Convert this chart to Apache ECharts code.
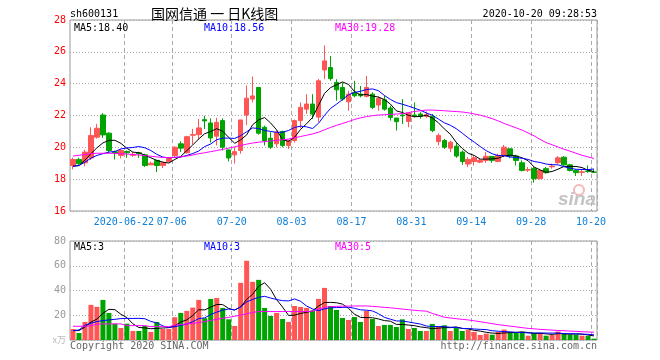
<!DOCTYPE html>
<html><head><meta charset="utf-8">
<script src="https://cdn.jsdelivr.net/npm/echarts@6/dist/echarts.min.js"></script>
<style>html,body{margin:0;padding:0;background:#fff}#c{width:660px;height:360px}</style>
</head><body><div id="c"></div>
<script>
// ---- data ----
const categories = [
 '2020-06-09','2020-06-10','2020-06-11','2020-06-12','2020-06-15','2020-06-16','2020-06-17','2020-06-18','2020-06-19','2020-06-22',
 '2020-06-23','2020-06-24','2020-06-29','2020-06-30','2020-07-01','2020-07-02','2020-07-03','2020-07-06','2020-07-07','2020-07-08',
 '2020-07-09','2020-07-10','2020-07-13','2020-07-14','2020-07-15','2020-07-16','2020-07-17','2020-07-20','2020-07-21','2020-07-22',
 '2020-07-23','2020-07-24','2020-07-27','2020-07-28','2020-07-29','2020-07-30','2020-07-31','2020-08-03','2020-08-04','2020-08-05',
 '2020-08-06','2020-08-07','2020-08-10','2020-08-11','2020-08-12','2020-08-13','2020-08-14','2020-08-17','2020-08-18','2020-08-19',
 '2020-08-20','2020-08-21','2020-08-24','2020-08-25','2020-08-26','2020-08-27','2020-08-28','2020-08-31','2020-09-01','2020-09-02',
 '2020-09-03','2020-09-04','2020-09-07','2020-09-08','2020-09-09','2020-09-10','2020-09-11','2020-09-14','2020-09-15','2020-09-16',
 '2020-09-17','2020-09-18','2020-09-21','2020-09-22','2020-09-23','2020-09-24','2020-09-25','2020-09-28','2020-09-29','2020-09-30',
 '2020-10-09','2020-10-12','2020-10-13','2020-10-14','2020-10-15','2020-10-16','2020-10-19','2020-10-20'
];
const openPrice = [
 18.86,19.24,19.03,19.33,20.64,22.03,20.89,19.72,19.49,19.74,
 19.50,19.66,19.53,18.90,19.18,18.86,19.10,19.49,20.22,19.66,
 20.76,20.80,21.74,21.53,20.70,21.68,19.84,19.53,19.80,22.03,
 23.03,23.76,21.26,20.57,20.22,20.99,20.11,20.43,21.68,22.40,
 22.72,21.90,24.86,25.01,24.07,23.76,22.86,23.45,23.34,23.20,
 23.34,22.66,22.99,22.47,21.84,22.03,21.63,22.03,22.09,21.95,
 21.95,20.36,20.43,19.95,20.07,19.70,18.95,19.11,19.07,19.18,
 19.43,19.11,19.49,19.91,19.45,19.03,18.57,18.66,18.03,18.66,
 18.78,19.03,19.38,18.90,18.55,18.43,18.52,18.45
];
const closePrice = [
 19.24,18.97,19.70,20.74,21.20,20.78,19.80,19.66,19.80,19.66,
 19.56,19.60,18.86,19.00,18.86,19.03,19.30,20.01,19.95,20.67,
 20.80,21.22,21.66,20.59,21.57,20.01,19.33,19.73,21.72,23.09,
 23.23,20.89,20.43,20.01,20.95,20.11,20.40,21.68,22.51,22.72,
 22.09,24.18,25.43,24.32,23.61,23.03,23.34,23.24,23.24,23.76,
 22.51,23.07,22.40,21.88,21.61,21.98,22.16,21.98,21.95,22.05,
 21.05,20.74,20.01,20.32,19.45,19.11,19.24,19.34,19.18,19.43,
 19.18,19.49,20.01,19.45,19.18,18.55,18.60,18.03,18.55,18.41,
 18.82,19.34,18.90,18.55,18.41,18.46,18.48,18.43
];
const lowPrice = [
 18.62,18.90,18.80,19.20,20.55,20.60,19.60,19.24,19.30,19.34,
 19.40,19.34,18.76,18.90,18.45,18.70,19.05,19.40,19.70,19.60,
 20.20,20.50,21.15,20.30,20.12,19.80,19.12,18.98,19.60,21.40,
 22.82,20.80,20.12,19.90,20.00,20.00,19.90,20.30,21.20,22.10,
 21.78,21.60,24.28,24.18,22.93,22.93,22.30,23.14,23.14,23.14,
 22.40,22.30,22.30,21.68,21.05,21.47,21.26,21.88,21.80,21.85,
 20.95,20.12,19.90,19.70,19.34,18.90,18.76,18.86,19.00,19.03,
 19.03,19.07,19.38,19.32,18.86,18.49,18.45,17.78,17.99,18.34,
 18.66,18.97,18.82,18.49,18.20,18.20,18.40,18.41
];
const highPrice = [
 19.35,19.35,19.85,21.26,21.47,22.15,20.95,19.80,19.90,19.80,
 19.70,19.72,19.60,19.10,19.20,19.10,19.35,20.05,20.38,20.72,
 21.16,21.78,21.98,21.82,21.85,21.82,19.85,20.00,21.72,23.88,
 24.45,23.76,21.36,20.95,21.05,21.05,20.50,21.75,22.82,23.34,
 23.34,24.30,26.40,25.74,24.28,24.07,23.55,24.18,23.86,24.49,
 23.45,23.20,23.24,22.61,21.84,23.03,22.16,22.82,22.20,22.25,
 22.10,20.88,20.53,20.43,20.32,19.80,19.38,19.49,19.30,19.70,
 19.43,19.60,20.15,19.91,19.53,19.18,18.76,18.76,18.66,18.76,
 18.97,19.45,19.45,18.97,18.61,18.59,18.86,18.61
];
const ma5 = [
 18.82,18.85,19.20,19.60,19.97,20.28,20.44,20.44,20.25,19.94,
 19.70,19.66,19.50,19.34,19.18,19.07,19.01,19.24,19.43,19.79,
 20.15,20.53,20.86,20.99,21.17,21.01,20.63,20.25,20.47,20.78,
 21.42,21.73,21.87,21.53,21.10,20.48,20.38,20.63,21.13,21.48,
 21.88,22.64,23.39,23.75,23.93,24.11,23.95,23.51,23.29,23.32,
 23.22,23.16,23.00,22.72,22.29,22.19,22.01,21.92,21.94,22.02,
 21.84,21.55,21.16,20.83,20.31,19.93,19.63,19.49,19.26,19.26,
 19.27,19.32,19.46,19.51,19.46,19.34,19.16,18.76,18.58,18.43,
 18.48,18.63,18.80,18.80,18.80,18.73,18.56,18.47
];
const ma10 = [
 18.80,18.86,19.07,19.32,19.49,19.60,19.70,19.74,19.90,19.96,
 19.99,20.05,19.97,19.80,19.56,19.39,19.34,19.37,19.39,19.49,
 19.61,19.77,20.05,20.21,20.48,20.58,20.58,20.56,20.73,20.98,
 21.22,21.18,21.06,21.00,20.94,20.95,21.06,21.25,21.33,21.29,
 21.18,21.51,22.01,22.44,22.71,23.00,23.30,23.45,23.52,23.63,
 23.67,23.56,23.26,23.01,22.81,22.71,22.59,22.46,22.33,22.16,
 22.02,21.78,21.54,21.39,21.17,20.89,20.59,20.33,20.05,19.79,
 19.60,19.48,19.48,19.39,19.36,19.31,19.24,19.11,19.05,18.95,
 18.91,18.90,18.78,18.69,18.62,18.61,18.60,18.64
];
const ma30 = [
 19.45,19.50,19.55,19.60,19.63,19.63,19.63,19.62,19.60,19.58,
 19.55,19.52,19.48,19.44,19.40,19.36,19.36,19.37,19.40,19.45,
 19.52,19.60,19.66,19.73,19.80,19.87,19.95,20.03,20.12,20.20,
 20.27,20.32,20.36,20.40,20.44,20.48,20.52,20.60,20.68,20.76,
 20.84,20.95,21.10,21.25,21.38,21.50,21.62,21.75,21.85,21.93,
 21.99,22.03,22.05,22.07,22.09,22.12,22.18,22.25,22.30,22.34,
 22.34,22.32,22.30,22.27,22.25,22.22,22.17,22.10,22.02,21.92,
 21.80,21.66,21.50,21.36,21.22,21.08,20.90,20.72,20.50,20.30,
 20.16,20.02,19.88,19.76,19.63,19.50,19.40,19.30
];
const volume = [
 8.9,5.7,14.6,28.4,26.8,32.4,21.9,13.2,9.7,13.2,
 7.3,7.3,11.3,6.5,14.6,8.9,8.9,18.4,21.9,23.5,
 26.2,32.4,17.6,33.2,34.0,25.9,16.7,11.3,46.2,64.0,
 47.0,48.6,25.9,19.4,21.9,17.0,14.6,27.5,26.7,25.9,
 23.5,33.2,42.1,27.5,24.3,17.8,16.2,18.6,14.6,23.5,
 17.0,11.3,12.2,12.2,10.5,16.7,8.9,9.7,7.3,7.3,
 13.0,10.5,11.9,7.3,10.0,7.3,8.1,6.5,4.1,5.1,
 4.3,6.5,8.4,5.7,5.7,6.5,3.5,5.7,5.7,3.5,
 4.1,6.8,4.9,4.3,4.3,3.5,3.2,1.1
];
const volMa5 = [
 7.6,7.6,10.5,14.5,16.9,21.6,24.8,24.5,20.8,18.1,
 13.1,10.1,9.8,9.1,9.4,9.7,10.0,11.5,14.5,16.3,
 19.8,24.5,24.3,26.6,28.7,28.6,25.5,24.2,26.8,32.8,
 37.0,43.4,46.3,41.0,32.6,26.6,19.8,20.1,21.5,22.3,
 23.6,27.4,30.3,30.4,30.1,29.0,25.6,20.9,18.3,18.1,
 18.0,17.0,15.7,15.2,12.6,12.6,12.1,11.6,10.6,10.0,
 9.2,9.6,10.0,10.0,10.5,9.4,8.9,7.8,7.2,6.2,
 5.6,5.3,5.7,6.0,6.1,6.6,6.0,5.4,5.4,5.0,
 4.5,5.2,5.0,4.7,4.9,4.8,4.0,3.3
];
const volMa10 = [
 7.6,8.1,12.0,13.5,14.9,15.7,16.2,16.7,17.3,17.5,
 17.4,17.5,17.2,15.0,13.8,11.4,10.1,10.7,11.8,12.9,
 14.8,17.3,17.9,20.6,22.5,24.2,25.0,24.3,26.7,30.8,
 32.8,34.5,35.3,33.9,32.7,31.8,31.6,33.2,31.3,27.5,
 25.1,23.6,25.2,26.0,26.2,26.3,26.5,25.6,24.4,24.1,
 23.5,21.3,18.3,16.8,15.4,15.3,14.6,13.7,12.9,11.3,
 10.9,10.9,10.8,10.3,10.3,9.3,9.3,8.9,8.6,8.4,
 7.5,7.1,6.8,6.6,6.2,6.1,5.7,5.6,5.7,5.6,
 5.6,5.6,5.2,5.1,5.0,4.7,4.6,4.2
];
const volMa30 = [
 11.1,11.1,11.1,11.5,12.8,13.0,13.0,13.0,13.0,11.6,
 11.6,11.6,11.6,10.8,10.8,10.8,10.8,12.0,12.5,13.0,
 13.5,14.0,14.9,15.8,16.7,17.6,18.3,19.2,20.2,21.2,
 22.2,23.0,23.0,23.0,23.0,23.0,23.0,23.0,23.0,23.0,
 23.2,25.0,26.5,27.0,27.2,27.3,27.4,27.5,27.5,27.5,
 27.2,26.8,26.4,26.0,25.5,25.0,24.5,24.0,23.6,23.3,
 21.5,20.0,18.4,17.8,17.2,16.7,16.2,15.5,14.8,14.0,
 13.2,12.4,11.8,11.2,10.6,10.0,9.4,9.0,8.6,8.3,
 8.0,7.7,7.5,7.2,7.0,6.7,6.5,6.3
];
const tickDates = ['2020-06-22','2020-07-06','2020-07-20','2020-08-03','2020-08-17','2020-08-31','2020-09-14','2020-09-28','2020-10-20'];
const tickLabels = ['2020-06-22','07-06','07-20','08-03','08-17','08-31','09-14','09-28','10-20'];
const priceMin = 16, priceMax = 28, priceStep = 2;
const volMin = 0, volMax = 80, volStep = 20;
const priceLegend = ['MA5:18.40','MA10:18.56','MA30:19.28'];
const volLegend = ['MA5:3','MA10:3','MA30:5'];

// ---- chart ----
const MONO = '"DejaVu Sans Mono","Liberation Mono",monospace';
const UP = '#ff5555', DOWN = '#00a400';
const GRIDC = '#aaaaaa';
const isTick = (i, v) => tickDates.indexOf(v) >= 0;
const chart = echarts.init(document.getElementById('c'), null, {renderer: 'canvas', width: 660, height: 360});
const vSplit = {show: true, interval: isTick, lineStyle: {color: GRIDC, type: [4, 3], width: 1}};
const hSplit = {show: true, lineStyle: {color: GRIDC, type: [1, 2], width: 1}};
function lineSeries(data, color, xi) {
  return {type: 'line', xAxisIndex: xi, yAxisIndex: xi, data: data, symbol: 'none', showSymbol: false,
    lineStyle: {width: 1, color: color}, itemStyle: {color: color}, z: 3, silent: true};
}
function txt(text, x, y, color, font, align) {
  return {type: 'text', x: x, y: y, z: 100, style: {text: text, fill: color, font: font,
    align: align || 'left', verticalAlign: 'middle', textAlign: align || 'left', textVerticalAlign: 'middle'}};
}
const f10 = '10px ' + MONO;
const option = {
  animation: false,
  backgroundColor: '#ffffff',
  grid: [
    {left: 70, right: 63, top: 20, height: 191, show: true, borderColor: '#999', borderWidth: 1, backgroundColor: 'transparent', containLabel: false, outerBoundsMode: 'none'},
    {left: 70, right: 63, top: 241, height: 99, show: true, borderColor: '#999', borderWidth: 1, backgroundColor: 'transparent', containLabel: false, outerBoundsMode: 'none'}
  ],
  xAxis: [
    {type: 'category', gridIndex: 0, data: categories, boundaryGap: true,
     axisLine: {show: false}, axisTick: {show: false},
     axisLabel: {interval: isTick, formatter: v => tickLabels[tickDates.indexOf(v)] || '', color: '#1080d8',
       fontFamily: MONO, fontSize: 10, margin: 6, padding: [0, 6, 0, 0], hideOverlap: false},
     splitLine: vSplit},
    {type: 'category', gridIndex: 1, data: categories, boundaryGap: true,
     axisLine: {show: false}, axisTick: {show: false}, axisLabel: {show: false}, splitLine: vSplit}
  ],
  yAxis: [
    {type: 'value', gridIndex: 0, min: priceMin, max: priceMax, interval: priceStep, scale: true,
     axisLine: {show: false}, axisTick: {show: false},
     axisLabel: {color: '#ff0000', fontFamily: MONO, fontSize: 10, margin: 4}, splitLine: hSplit},
    {type: 'value', gridIndex: 1, min: volMin, max: volMax, interval: volStep,
     axisLine: {show: false}, axisTick: {show: false},
     axisLabel: {color: '#999999', fontFamily: MONO, fontSize: 10, margin: 4,
       formatter: v => v === 0 ? '{u|x万}' : String(v),
       rich: {u: {color: '#bbbbbb', fontSize: 9, fontFamily: '"Noto Sans CJK SC",' + MONO}}},
     splitLine: hSplit}
  ],
  series: [
    {type: 'candlestick', xAxisIndex: 0, yAxisIndex: 0, barWidth: 5, z: 2,
     data: categories.map((d, i) => [openPrice[i], closePrice[i], lowPrice[i], highPrice[i]]),
     itemStyle: {color: UP, color0: DOWN, borderColor: UP, borderColor0: DOWN, borderColorDoji: DOWN, borderWidth: 1}},
    lineSeries(ma5, '#000000', 0),
    lineSeries(ma10, '#0000ff', 0),
    lineSeries(ma30, '#ff00ff', 0),
    {type: 'bar', xAxisIndex: 1, yAxisIndex: 1, barWidth: 5, z: 2,
     data: volume.map((v, i) => ({value: v, itemStyle: {color: closePrice[i] >= openPrice[i] ? UP : DOWN}}))},
    lineSeries(volMa5, '#000000', 1),
    lineSeries(volMa10, '#0000ff', 1),
    lineSeries(volMa30, '#ff00ff', 1)
  ],
  graphic: [
    txt('sh600131', 70, 14, '#000', f10),
    txt('国网信通 一 日K线图', 151, 14, '#000', '14px "Noto Sans CJK SC"'),
    txt('2020-10-20 09:28:53', 597, 14, '#000', f10, 'right'),
    txt(priceLegend[0], 74, 28, '#000', f10),
    txt(priceLegend[1], 204, 28, '#0000ff', f10),
    txt(priceLegend[2], 335, 28, '#ff00ff', f10),
    txt(volLegend[0], 74, 247, '#000', f10),
    txt(volLegend[1], 204, 247, '#0000ff', f10),
    txt(volLegend[2], 335, 247, '#ff00ff', f10),
    txt('Copyright 2020 SINA.COM', 70, 346, '#666', f10),
    txt('http://finance.sina.com.cn', 597, 346, '#666', f10, 'right'),
    {type: 'circle', z: 1, shape: {cx: 579, cy: 190, r: 5}, style: {fill: 'none', stroke: '#f4b8b8', lineWidth: 2}},
    txt('sina', 596, 200, '#c4c4c4', 'italic bold 19px "Liberation Sans"', 'right')
  ]
};
chart.setOption(option);
</script>
</body></html>
